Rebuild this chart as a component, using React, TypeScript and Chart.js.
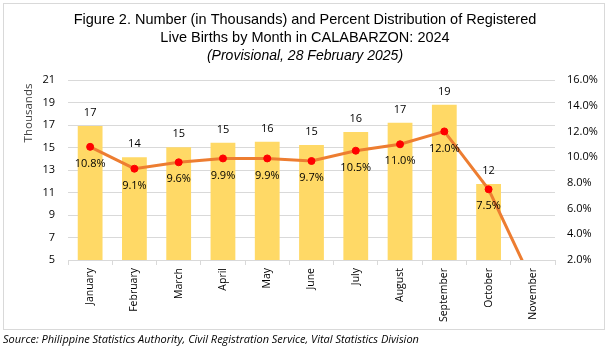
import React, { useEffect, useRef } from "react";
import { Chart, registerables } from "chart.js";

Chart.register(...registerables);

const months = ["January", "February", "March", "April", "May", "June", "July", "August", "September", "October", "November"];
const birthsThousands = [16.91, 14.13, 15.02, 15.43, 15.52, 15.22, 16.38, 17.2, 18.8, 11.76, 0.3];
const percentShare = [10.8, 9.1, 9.6, 9.9, 9.9, 9.7, 10.5, 11.0, 12.0, 7.5, 0.2];
const titleLines = [
  "Figure 2. Number (in Thousands) and Percent Distribution of Registered",
  "Live Births by Month in CALABARZON: 2024",
];
const subtitleText = "(Provisional, 28 February 2025)";
const sourceText = "Source: Philippine Statistics Authority, Civil Registration Service, Vital Statistics Division";
const leftAxisTitle = "Thousands";

const TICK_FONT = "'Open Sans', sans-serif";
const TITLE_FONT = "'Liberation Sans', Arial, sans-serif";

const decorPlugin = {
  id: "decor",
  beforeDraw(chart: any) {
    const ctx = chart.ctx;
    ctx.save();
    ctx.fillStyle = "#ffffff";
    ctx.fillRect(0, 0, chart.width, chart.height);
    ctx.strokeStyle = "#D9D9D9";
    ctx.lineWidth = 1;
    ctx.strokeRect(3.5, 3.5, 601, 326);
    ctx.restore();
  },
  afterDraw(chart: any) {
    const ctx = chart.ctx;
    ctx.save();
    ctx.fillStyle = "#000000";
    ctx.textAlign = "center";
    ctx.textBaseline = "middle";
    ctx.font = `14.5px ${TITLE_FONT}`;
    ctx.fillText(titleLines[0], 305, 20);
    ctx.fillText(titleLines[1], 305, 38);
    ctx.font = `italic 14px ${TITLE_FONT}`;
    ctx.fillText(subtitleText, 305, 56);

    ctx.textAlign = "left";
    ctx.textBaseline = "alphabetic";
    ctx.font = `italic 11px ${TICK_FONT}`;
    ctx.fillStyle = "#000000";
    ctx.fillText(sourceText, 3, 343);

    ctx.translate(29, 113);
    ctx.rotate(-Math.PI / 2);
    ctx.textAlign = "center";
    ctx.textBaseline = "middle";
    ctx.font = `11.5px ${TICK_FONT}`;
    ctx.fillStyle = "#404040";
    ctx.fillText(leftAxisTitle, 0, 0);
    ctx.restore();
  },
  afterDatasetsDraw(chart: any) {
    const ctx = chart.ctx;
    const area = chart.chartArea;
    ctx.save();
    ctx.fillStyle = "#000000";
    ctx.textAlign = "center";
    ctx.textBaseline = "middle";
    ctx.font = `11px ${TICK_FONT}`;
    const barMeta = chart.getDatasetMeta(0);
    barMeta.data.forEach((el: any, i: number) => {
      if (el.y < area.bottom - 1) {
        ctx.fillText(String(Math.round(birthsThousands[i])), el.x, el.y - 13);
      }
    });
    const lineMeta = chart.getDatasetMeta(1);
    lineMeta.data.forEach((el: any, i: number) => {
      if (el.y <= area.bottom && el.y >= area.top) {
        ctx.fillText(percentShare[i].toFixed(1) + "%", el.x, el.y + 17);
      }
    });
    ctx.restore();
  },
};

export default function App() {
  const ref = useRef<HTMLCanvasElement | null>(null);
  useEffect(() => {
    if (!ref.current) return;
    const chart = new Chart(ref.current, {
      type: "bar",
      data: {
        labels: months,
        datasets: [
          {
            type: "bar",
            label: "Number",
            data: birthsThousands,
            backgroundColor: "#FFD966",
            barPercentage: 0.56,
            categoryPercentage: 1,
            yAxisID: "y",
            order: 2,
          },
          {
            type: "line",
            label: "Percent",
            data: percentShare,
            borderColor: "#ED7D31",
            borderWidth: 3,
            pointBackgroundColor: "#FF0000",
            pointBorderColor: "#FF0000",
            pointRadius: 3.5,
            pointBorderWidth: 1,
            yAxisID: "y1",
            order: 1,
            tension: 0,
          } as any,
        ],
      },
      options: {
        responsive: false,
        animation: false,
        devicePixelRatio: 1,
        layout: { padding: { top: 80, left: 0, right: 0, bottom: 0 } },
        plugins: {
          legend: { display: false },
          tooltip: { enabled: false },
          title: { display: false },
        },
        scales: {
          x: {
            offset: true,
            grid: {
              offset: true,
              drawOnChartArea: false,
              drawTicks: true,
              tickLength: 5,
              color: "#D9D9D9",
            },
            border: { display: true, color: "#D9D9D9" },
            ticks: {
              autoSkip: false,
              minRotation: 90,
              maxRotation: 90,
              padding: 3,
              color: "#000000",
              font: { family: TICK_FONT, size: 10.5 },
            },
            afterFit(scale: any) {
              scale.height = 87;
            },
          },
          y: {
            position: "left",
            min: 5,
            max: 21,
            ticks: {
              stepSize: 2,
              padding: 13,
              color: "#000000",
              font: { family: TICK_FONT, size: 11 },
            },
            grid: { color: "#D9D9D9", drawTicks: false },
            border: { display: false },
            afterFit(scale: any) {
              scale.width = 68;
            },
          },
          y1: {
            position: "right",
            min: 2,
            max: 16,
            ticks: {
              stepSize: 2,
              padding: 12,
              color: "#000000",
              font: { family: TICK_FONT, size: 11 },
              callback: (v: any) => Number(v).toFixed(1) + "%",
            },
            grid: { drawOnChartArea: false, drawTicks: false },
            border: { display: false },
            afterFit(scale: any) {
              scale.width = 54;
            },
          },
        },
      },
      plugins: [decorPlugin],
    });
    return () => chart.destroy();
  }, []);
  return (
    <div style={{ position: "fixed", left: 0, top: 0, width: 609, height: 347, background: "#fff" }}>
      <canvas ref={ref} width={609} height={347} style={{ display: "block", width: 609, height: 347 }} />
    </div>
  );
}
